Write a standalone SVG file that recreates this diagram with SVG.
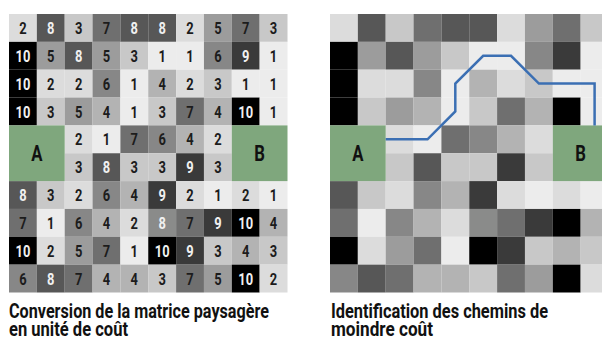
<svg xmlns="http://www.w3.org/2000/svg" xmlns:xlink="http://www.w3.org/1999/xlink" width="602" height="340" viewBox="0 0 602 340">
<style>
.c1{fill:#ececec}.c2{fill:#dcdcdc}.c3{fill:#c8c8c8}.c4{fill:#b3b3b3}.c5{fill:#9c9c9c}
.c6{fill:#878787}.c7{fill:#6f6f6f}.c8{fill:#575757}.c9{fill:#3a3a3a}.c10{fill:#000000}.cx{fill:#8a8b8a}
.node{fill:#7fa77d}
text{font-family:Roboto,"Liberation Sans",sans-serif;font-weight:bold}
.n text{font-size:17px;text-anchor:middle;fill:#1c1c1c}
.n text.w{fill:#f0f0f0}
.lbl{font-size:22px;text-anchor:middle;fill:#111}
.cap{font-size:20px;fill:#111}
.path{fill:none;stroke:#3b6fb3;stroke-width:2.5;stroke-linejoin:miter}
</style>
<defs>
<g id="cells">
<g transform="translate(0,0)"><rect class="c2" x="0" width="27.85" height="27.85"/><rect class="c8" x="27.85" width="27.85" height="27.85"/><rect class="c3" x="55.7" width="27.85" height="27.85"/><rect class="c7" x="83.55" width="27.85" height="27.85"/><rect class="c8" x="111.4" width="27.85" height="27.85"/><rect class="c8" x="139.25" width="27.85" height="27.85"/><rect class="c2" x="167.1" width="27.85" height="27.85"/><rect class="c5" x="194.95" width="27.85" height="27.85"/><rect class="c7" x="222.8" width="27.85" height="27.85"/><rect class="c3" x="250.65" width="27.85" height="27.85"/></g>
<g transform="translate(0,27.85)"><rect class="c10" x="0" width="27.85" height="27.85"/><rect class="c5" x="27.85" width="27.85" height="27.85"/><rect class="c8" x="55.7" width="27.85" height="27.85"/><rect class="c5" x="83.55" width="27.85" height="27.85"/><rect class="c3" x="111.4" width="27.85" height="27.85"/><rect class="c1" x="139.25" width="27.85" height="27.85"/><rect class="c1" x="167.1" width="27.85" height="27.85"/><rect class="c6" x="194.95" width="27.85" height="27.85"/><rect class="c9" x="222.8" width="27.85" height="27.85"/><rect class="c1" x="250.65" width="27.85" height="27.85"/></g>
<g transform="translate(0,55.7)"><rect class="c10" x="0" width="27.85" height="27.85"/><rect class="c2" x="27.85" width="27.85" height="27.85"/><rect class="c2" x="55.7" width="27.85" height="27.85"/><rect class="c6" x="83.55" width="27.85" height="27.85"/><rect class="c1" x="111.4" width="27.85" height="27.85"/><rect class="c4" x="139.25" width="27.85" height="27.85"/><rect class="c2" x="167.1" width="27.85" height="27.85"/><rect class="c3" x="194.95" width="27.85" height="27.85"/><rect class="c1" x="222.8" width="27.85" height="27.85"/><rect class="c1" x="250.65" width="27.85" height="27.85"/></g>
<g transform="translate(0,83.55)"><rect class="c10" x="0" width="27.85" height="27.85"/><rect class="c3" x="27.85" width="27.85" height="27.85"/><rect class="c5" x="55.7" width="27.85" height="27.85"/><rect class="c4" x="83.55" width="27.85" height="27.85"/><rect class="c1" x="111.4" width="27.85" height="27.85"/><rect class="c3" x="139.25" width="27.85" height="27.85"/><rect class="c7" x="167.1" width="27.85" height="27.85"/><rect class="c4" x="194.95" width="27.85" height="27.85"/><rect class="c10" x="222.8" width="27.85" height="27.85"/><rect class="c1" x="250.65" width="27.85" height="27.85"/></g>
<g transform="translate(0,111.4)"><rect class="c2" x="55.7" width="27.85" height="27.85"/><rect class="c1" x="83.55" width="27.85" height="27.85"/><rect class="c7" x="111.4" width="27.85" height="27.85"/><rect class="c6" x="139.25" width="27.85" height="27.85"/><rect class="c4" x="167.1" width="27.85" height="27.85"/><rect class="c2" x="194.95" width="27.85" height="27.85"/></g>
<g transform="translate(0,139.25)"><rect class="c3" x="55.7" width="27.85" height="27.85"/><rect class="c8" x="83.55" width="27.85" height="27.85"/><rect class="c3" x="111.4" width="27.85" height="27.85"/><rect class="c3" x="139.25" width="27.85" height="27.85"/><rect class="c9" x="167.1" width="27.85" height="27.85"/><rect class="c3" x="194.95" width="27.85" height="27.85"/></g>
<g transform="translate(0,167.1)"><rect class="c8" x="0" width="27.85" height="27.85"/><rect class="c3" x="27.85" width="27.85" height="27.85"/><rect class="c2" x="55.7" width="27.85" height="27.85"/><rect class="c6" x="83.55" width="27.85" height="27.85"/><rect class="c4" x="111.4" width="27.85" height="27.85"/><rect class="c9" x="139.25" width="27.85" height="27.85"/><rect class="c2" x="167.1" width="27.85" height="27.85"/><rect class="c1" x="194.95" width="27.85" height="27.85"/><rect class="c2" x="222.8" width="27.85" height="27.85"/><rect class="c1" x="250.65" width="27.85" height="27.85"/></g>
<g transform="translate(0,194.95)"><rect class="c7" x="0" width="27.85" height="27.85"/><rect class="c1" x="27.85" width="27.85" height="27.85"/><rect class="c6" x="55.7" width="27.85" height="27.85"/><rect class="c4" x="83.55" width="27.85" height="27.85"/><rect class="c2" x="111.4" width="27.85" height="27.85"/><rect class="cx" x="139.25" width="27.85" height="27.85"/><rect class="c7" x="167.1" width="27.85" height="27.85"/><rect class="c9" x="194.95" width="27.85" height="27.85"/><rect class="c10" x="222.8" width="27.85" height="27.85"/><rect class="c4" x="250.65" width="27.85" height="27.85"/></g>
<g transform="translate(0,222.8)"><rect class="c10" x="0" width="27.85" height="27.85"/><rect class="c2" x="27.85" width="27.85" height="27.85"/><rect class="c5" x="55.7" width="27.85" height="27.85"/><rect class="c7" x="83.55" width="27.85" height="27.85"/><rect class="c1" x="111.4" width="27.85" height="27.85"/><rect class="c10" x="139.25" width="27.85" height="27.85"/><rect class="c9" x="167.1" width="27.85" height="27.85"/><rect class="c3" x="194.95" width="27.85" height="27.85"/><rect class="c4" x="222.8" width="27.85" height="27.85"/><rect class="c3" x="250.65" width="27.85" height="27.85"/></g>
<g transform="translate(0,250.65)"><rect class="c6" x="0" width="27.85" height="27.85"/><rect class="c8" x="27.85" width="27.85" height="27.85"/><rect class="c7" x="55.7" width="27.85" height="27.85"/><rect class="c4" x="83.55" width="27.85" height="27.85"/><rect class="c4" x="111.4" width="27.85" height="27.85"/><rect class="c3" x="139.25" width="27.85" height="27.85"/><rect class="c7" x="167.1" width="27.85" height="27.85"/><rect class="c5" x="194.95" width="27.85" height="27.85"/><rect class="c10" x="222.8" width="27.85" height="27.85"/><rect class="c2" x="250.65" width="27.85" height="27.85"/></g>
</g>
</defs>

<g id="left-grid" transform="translate(9,14)">
<use xlink:href="#cells" href="#cells"/>
<g class="n" transform="scale(0.76,1)">
<text x="18.33" y="20">2</text><text class="w" x="54.97" y="20">8</text><text x="91.62" y="20">3</text><text x="128.26" y="20">7</text><text class="w" x="164.91" y="20">8</text><text class="w" x="201.55" y="20">8</text><text x="238.2" y="20">2</text><text x="274.84" y="20">5</text><text x="311.49" y="20">7</text><text x="348.13" y="20">3</text>
<text class="w" x="18.33" y="47.85">10</text><text x="54.97" y="47.85">5</text><text class="w" x="91.62" y="47.85">8</text><text x="128.26" y="47.85">5</text><text x="164.91" y="47.85">3</text><text x="201.55" y="47.85">1</text><text x="238.2" y="47.85">1</text><text x="274.84" y="47.85">6</text><text class="w" x="311.49" y="47.85">9</text><text x="348.13" y="47.85">1</text>
<text class="w" x="18.33" y="75.7">10</text><text x="54.97" y="75.7">2</text><text x="91.62" y="75.7">2</text><text x="128.26" y="75.7">6</text><text x="164.91" y="75.7">1</text><text x="201.55" y="75.7">4</text><text x="238.2" y="75.7">2</text><text x="274.84" y="75.7">3</text><text x="311.49" y="75.7">1</text><text x="348.13" y="75.7">1</text>
<text class="w" x="18.33" y="103.55">10</text><text x="54.97" y="103.55">3</text><text x="91.62" y="103.55">5</text><text x="128.26" y="103.55">4</text><text x="164.91" y="103.55">1</text><text x="201.55" y="103.55">3</text><text x="238.2" y="103.55">7</text><text x="274.84" y="103.55">4</text><text class="w" x="311.49" y="103.55">10</text><text x="348.13" y="103.55">1</text>
<text x="91.62" y="131.4">2</text><text x="128.26" y="131.4">1</text><text x="164.91" y="131.4">7</text><text x="201.55" y="131.4">6</text><text x="238.2" y="131.4">4</text><text x="274.84" y="131.4">2</text>
<text x="91.62" y="159.25">3</text><text class="w" x="128.26" y="159.25">8</text><text x="164.91" y="159.25">3</text><text x="201.55" y="159.25">3</text><text class="w" x="238.2" y="159.25">9</text><text x="274.84" y="159.25">3</text>
<text class="w" x="18.33" y="187.1">8</text><text x="54.97" y="187.1">3</text><text x="91.62" y="187.1">2</text><text x="128.26" y="187.1">6</text><text x="164.91" y="187.1">4</text><text class="w" x="201.55" y="187.1">9</text><text x="238.2" y="187.1">2</text><text x="274.84" y="187.1">1</text><text x="311.49" y="187.1">2</text><text x="348.13" y="187.1">1</text>
<text x="18.33" y="214.95">7</text><text x="54.97" y="214.95">1</text><text x="91.62" y="214.95">6</text><text x="128.26" y="214.95">4</text><text x="164.91" y="214.95">2</text><text class="w" x="201.55" y="214.95">8</text><text x="238.2" y="214.95">7</text><text class="w" x="274.84" y="214.95">9</text><text class="w" x="311.49" y="214.95">10</text><text x="348.13" y="214.95">4</text>
<text class="w" x="18.33" y="242.8">10</text><text x="54.97" y="242.8">2</text><text x="91.62" y="242.8">5</text><text x="128.26" y="242.8">7</text><text x="164.91" y="242.8">1</text><text class="w" x="201.55" y="242.8">10</text><text class="w" x="238.2" y="242.8">9</text><text x="274.84" y="242.8">3</text><text x="311.49" y="242.8">4</text><text x="348.13" y="242.8">3</text>
<text x="18.33" y="270.65">6</text><text class="w" x="54.97" y="270.65">8</text><text x="91.62" y="270.65">7</text><text x="128.26" y="270.65">4</text><text x="164.91" y="270.65">4</text><text x="201.55" y="270.65">3</text><text x="238.2" y="270.65">7</text><text x="274.84" y="270.65">5</text><text class="w" x="311.49" y="270.65">10</text><text x="348.13" y="270.65">2</text>
</g>
<g id="left-A"><rect class="node" x="0" y="111.4" width="55.7" height="55.7"/><text class="lbl" transform="scale(0.76,1)" x="36.64" y="147.1">A</text></g>
<g id="left-B"><rect class="node" x="222.8" y="111.4" width="55.7" height="55.7"/><text class="lbl" transform="scale(0.76,1)" x="329.8" y="147.1">B</text></g>
</g>

<g id="right-grid" transform="translate(330,14)">
<use xlink:href="#cells" href="#cells"/>
<g id="right-A"><rect class="node" x="0" y="111.4" width="55.7" height="55.7"/><text class="lbl" transform="scale(0.76,1)" x="36.64" y="147.1">A</text></g>
<g id="right-B"><rect class="node" x="222.8" y="111.4" width="55.7" height="55.7"/><text class="lbl" transform="scale(0.76,1)" x="329.8" y="147.1">B</text></g>
</g>

<g id="connectors">
<path class="path" d="M385.7,139.33 H427.5 L455.3,111.5 V83.6 L483.2,55.8 H511 L538.9,83.6 H594.6 V125.4"/>
</g>

<g id="captions">
<text class="cap" x="9" y="318" textLength="260" lengthAdjust="spacingAndGlyphs">Conversion de la matrice paysagère</text>
<text class="cap" x="9" y="336" textLength="119" lengthAdjust="spacingAndGlyphs">en unité de coût</text>
<text class="cap" x="331" y="318" textLength="217" lengthAdjust="spacingAndGlyphs">Identification des chemins de</text>
<text class="cap" x="331" y="336" textLength="102" lengthAdjust="spacingAndGlyphs">moindre coût</text>
</g>
</svg>
